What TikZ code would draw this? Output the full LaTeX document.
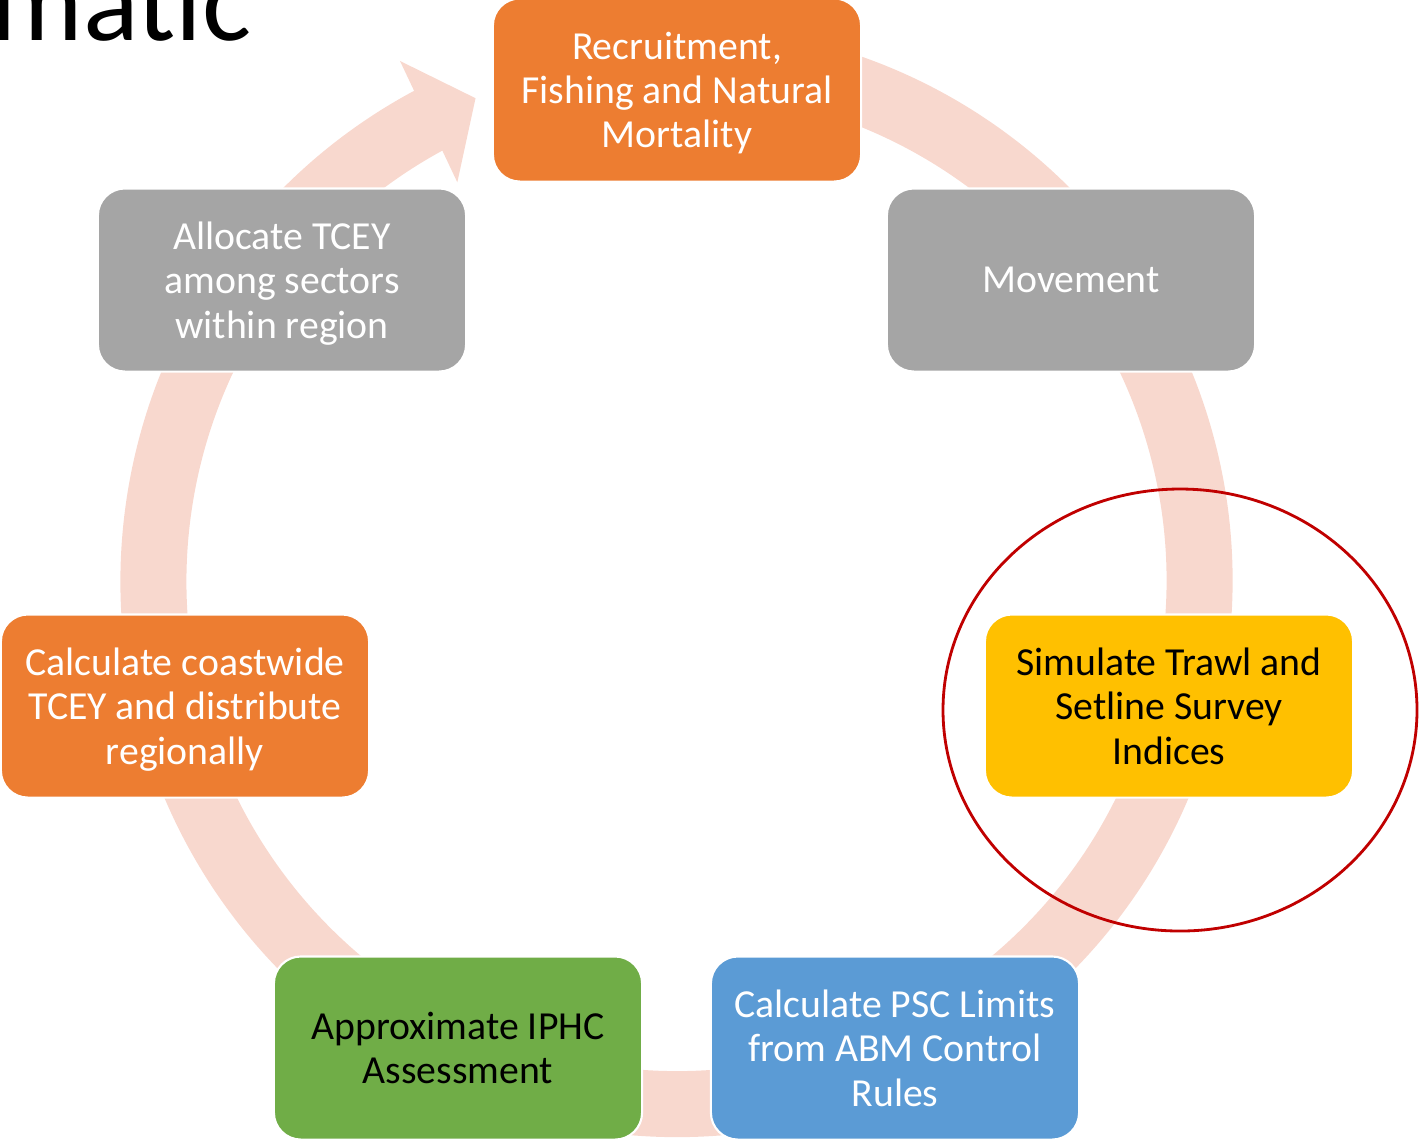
\documentclass[tikz,border=0pt]{standalone}
\usepackage{fontspec}
\setmainfont{Carlito}
\usepackage{xcolor}
\definecolor{myorange}{RGB}{237,125,49}
\definecolor{mygray}{RGB}{165,165,165}
\definecolor{myyellow}{RGB}{255,192,0}
\definecolor{myblue}{RGB}{91,155,213}
\definecolor{mygreen}{RGB}{112,173,71}
\definecolor{myring}{RGB}{248,216,206}
\definecolor{mydarkred}{RGB}{192,0,0}
\usepackage{tikz}
\newcommand{\ringradius}{523}
\newcommand{\widthstage}{3.68cm}
\newcommand{\heightstage}{1.83cm}
\tikzset{
    stage/.style={draw=white, line width=0.6pt, rounded corners=0.27cm, minimum width=\widthstage, minimum height=\heightstage, align=center, text=white, text depth=0pt, font=\fontsize{11.3pt}{12.6pt}\selectfont},
    darktext/.style={text=black},
    ring/.style={myring, line width=0.66cm},
    highlight/.style={mydarkred, line width=0.8pt},
    heading/.style={inner sep=0pt, font=\fontsize{33pt}{33pt}\selectfont}
}

\begin{document}
\begin{tikzpicture}[x=0.01cm, y=0.01cm]
    \useasboundingbox (0,0) rectangle (1422,-1141);
    \coordinate (hub) at (676.5,-581);

    % cycle ring with its head
    \draw[ring] ([shift={(80:\ringradius)}]hub) arc[start angle=80, end angle=-242, radius=\ringradius];
    \fill[myring] ([shift={(118:589)}]hub) -- ([shift={(112.6:\ringradius)}]hub) -- ([shift={(118.8:455)}]hub) -- cycle;

    \path
        node[stage, fill=myorange] (recruit) at (677,-90) {Recruitment,\\Fishing and Natural\\Mortality}
        node[stage, fill=mygray] (movement) at (1071,-280) {Movement}
        node[stage, fill=myyellow, darktext] (survey) at (1169,-706) {Simulate Trawl and\\Setline Survey\\Indices}
        node[stage, fill=myblue] (psc) at (895,-1048) {Calculate PSC Limits\\from ABM Control\\Rules}
        node[stage, fill=mygreen, darktext] (iphc) at (458,-1048) {Approximate IPHC\\Assessment}
        node[stage, fill=myorange] (coastwide) at (185,-706) {Calculate coastwide\\TCEY and distribute\\regionally}
        node[stage, fill=mygray] (allocate) at (282,-280) {Allocate TCEY\\among sectors\\within region};

    \draw[highlight] ([shift={(11,-4)}]survey.center) ellipse[x radius=237, y radius=221];
    \node[heading, anchor=base east] (title) at (252,-40) {matic};
\end{tikzpicture}
\end{document}
